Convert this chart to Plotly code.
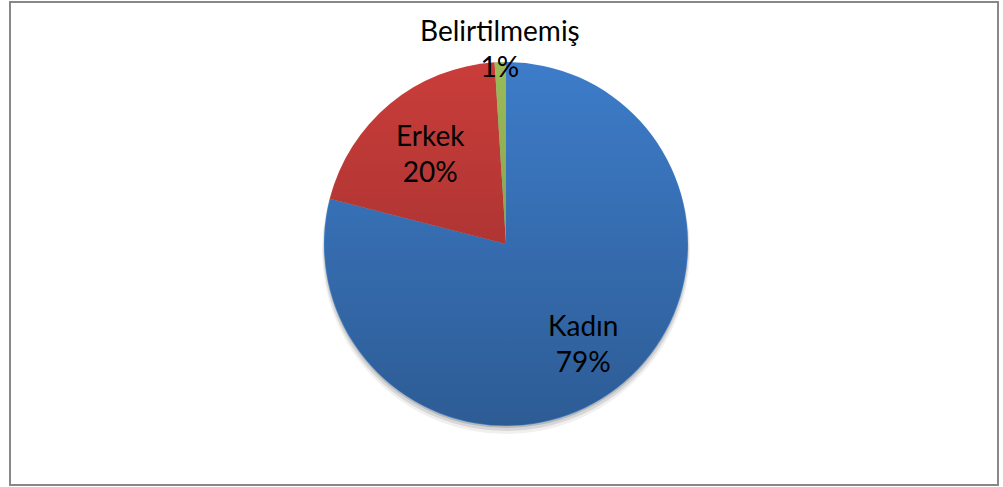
import base64
import math
import plotly.graph_objects as go

# ---- data ----
labels = ["Kadın", "Erkek", "Belirtilmemiş"]
values = [79, 20, 1]
colors = ["#3D7CC9", "#C93D3A", "#9BBB59"]
label_radius = [0.69, 0.65, 1.08]   # label distance from centre (fraction of radius)

W, H = 1003, 487
CX, CY, R = 506, 244, 182  # pie centre / radius in pixels


def dom(cx, cy, r):
    return dict(x=[(cx - r) / W, (cx + r) / W],
                y=[(H - cy - r) / H, (H - cy + r) / H])


fig = go.Figure()

# soft shadow under the pie
for dy, dr, op in [(6, 2, 0.06), (4, 1, 0.10), (2, 0, 0.14)]:
    fig.add_trace(go.Pie(
        values=[sum(values)], labels=["shadow"], sort=False,
        marker=dict(colors=[f"rgba(0,0,0,{op})"], line=dict(width=0)),
        textinfo="none", hoverinfo="skip", showlegend=False,
        domain=dom(CX, CY + dy, R + dr),
    ))

fig.add_trace(go.Pie(
    labels=labels, values=values, sort=False,
    direction="clockwise", rotation=0,
    marker=dict(colors=colors, line=dict(width=0)),
    textinfo="none",
    showlegend=False,
    domain=dom(CX, CY, R),
))

# data labels placed at each slice's mid angle
total = sum(values)
annotations = []
cum = 0.0
for lab, v, f in zip(labels, values, label_radius):
    mid = (cum + v / 2) / total * 2 * math.pi
    cum += v
    px = CX + math.sin(mid) * R * f
    py = CY - math.cos(mid) * R * f
    pct = round(v / total * 100)
    annotations.append(dict(
        x=px / W, y=(H - py) / H, xref="paper", yref="paper",
        text=f"{lab}<br>{pct}%", showarrow=False,
        xanchor="center", yanchor="middle", align="center",
        font=dict(family="Lato", size=28, color="black"),
    ))

# vertical gradient shading over the pie
svg = ('<svg xmlns="http://www.w3.org/2000/svg" width="400" height="400" viewBox="0 0 400 400">'
       '<defs><linearGradient id="g" x1="0" y1="0" x2="0" y2="1">'
       '<stop offset="0" stop-color="#000000" stop-opacity="0"/>'
       '<stop offset="1" stop-color="#000000" stop-opacity="0.26"/>'
       '</linearGradient></defs>'
       '<circle cx="200" cy="200" r="199.3" fill="url(#g)"/></svg>')
src = "data:image/svg+xml;base64," + base64.b64encode(svg.encode()).decode()

fig.update_layout(
    width=W, height=H,
    margin=dict(l=0, r=0, t=0, b=0),
    paper_bgcolor="white", plot_bgcolor="white",
    annotations=annotations,
    images=[dict(source=src, xref="paper", yref="paper",
                 x=(CX - R) / W, y=(H - CY + R) / H,
                 sizex=2 * R / W, sizey=2 * R / H,
                 xanchor="left", yanchor="top", sizing="stretch",
                 layer="above")],
    shapes=[dict(type="rect", xref="paper", yref="paper",
                 x0=10 / W, x1=998 / W, y0=(H - 485) / H, y1=(H - 2) / H,
                 line=dict(color="#888888", width=2), fillcolor="rgba(0,0,0,0)")],
)

post = ("document.body.style.margin='0';document.body.style.overflow='hidden';"
        "var d=document.getElementById('{plot_id}');"
        "d.style.position='fixed';d.style.left='0px';d.style.top='0px';")

fig.write_html("out.html", post_script=post, config={"displayModeBar": False})
